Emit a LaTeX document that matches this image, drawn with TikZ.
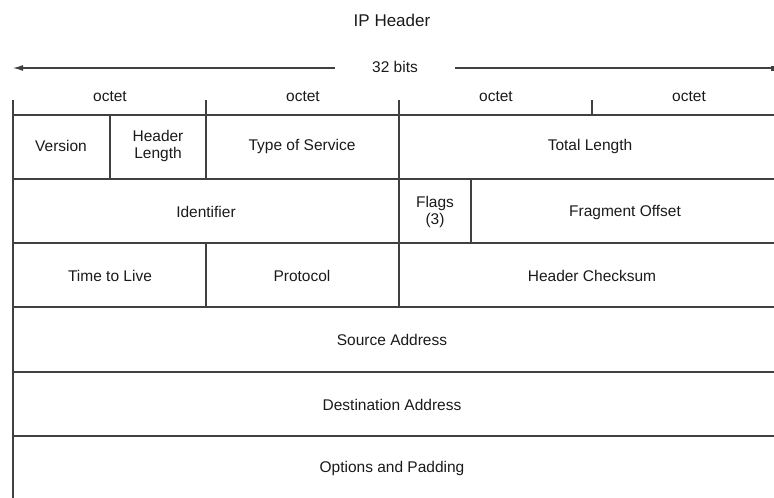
\documentclass[tikz,border=0pt]{standalone}
\usepackage{fontspec}
\setmainfont{Liberation Sans}
\usetikzlibrary{arrows.meta}
\definecolor{Rule}{HTML}{404040}
\definecolor{Ink}{HTML}{1A1A1A}
\tikzset{x=1pt,y=-1pt,
  grid/.style={Rule,line width=1.1pt},
  field/.style={text=Ink,font=\fontsize{15.5}{17.5}\selectfont,align=center}}
\begin{document}
\begin{tikzpicture}
\useasboundingbox (0,0) rectangle (774,498);
\node[field,font=\fontsize{17}{19}\selectfont] (title) at (392,20){IP Header};
% width arrow
\node[field] (bits) at (395,67){32 bits};
\coordinate (wl) at (13,68);\coordinate (wr) at (774,68);
\coordinate (gl) at (335,68);\coordinate (gr) at (455,68);
\draw[grid,-{Latex[length=10pt,width=6pt]}] (gl) -- (wl);
\draw[grid,-{Square[length=3pt,width=5pt]}] (gr) -- (wr);
% octet row
\foreach \x/\n in {110/1,303/2,496/3,689/4}\node[field] (oct\n) at (\x,97){octet};
\foreach \x in {13,206,399,592}\draw[grid] (\x,100)--(\x,115);
% rows
\foreach \y in {115,179,243,307,372,436}\draw[grid] (13,\y)--(774,\y);
\draw[grid] (13,115)--(13,498);
\draw[grid] (110,115)--(110,179);\draw[grid] (206,115)--(206,179);\draw[grid] (399,115)--(399,243);
\draw[grid] (471,179)--(471,243);
\draw[grid] (206,243)--(206,307);\draw[grid] (399,243)--(399,307);
% fields
\node[field] (ver) at (61,146){Version};
\node[field] (ihl) at (158,146){Header\\Length};
\node[field] (tos) at (302,146){Type of Service};
\node[field] (len) at (590,146){Total Length};
\node[field] (id) at (206,212){Identifier};
\node[field] (flg) at (435,212){Flags\\(3)};
\node[field] (frag) at (625,212){Fragment Offset};
\node[field] (ttl) at (110,276){Time to Live};
\node[field] (proto) at (302,276){Protocol};
\node[field] (csum) at (592,276){Header Checksum};
\node[field] (src) at (392,340){Source Address};
\node[field] (dst) at (392,405){Destination Address};
\node[field] (opt) at (392,468){Options and Padding};
\end{tikzpicture}
\end{document}
